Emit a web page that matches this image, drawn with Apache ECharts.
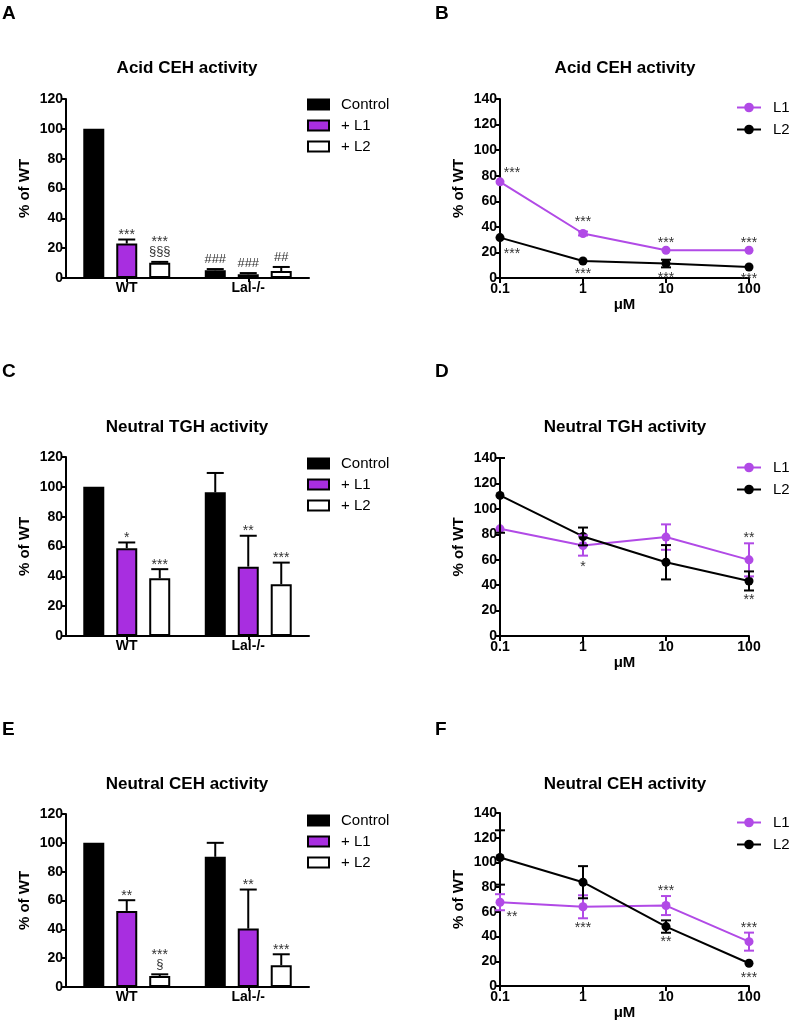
<!DOCTYPE html>
<html><head><meta charset="utf-8">
<script src="https://cdn.jsdelivr.net/npm/echarts@6/dist/echarts.min.js"></script>
<style>html,body{margin:0;padding:0;background:#fff}#c{width:789px;height:1029px}</style>
</head><body><div id="c"></div>
<script>
// ================= DATA =================
const groups = ['WT', 'Lal-/-'];
const barNames = ['Control', '+ L1', '+ L2'];
const doses = [0.1, 1, 10, 100];
const lineNames = ['L1', 'L2'];
const panelLetters = ['A', 'B', 'C', 'D', 'E', 'F'];
const panelTitles = ['Acid CEH activity', 'Acid CEH activity', 'Neutral TGH activity',
                     'Neutral TGH activity', 'Neutral CEH activity', 'Neutral CEH activity'];

// Panel A – Acid CEH activity (bars)
const A_control = [100, 5.2];  const A_controlErr = [0, 0.8];
const A_L1 = [23.1, 2.5];      const A_L1Err = [2.7, 0.8];
const A_L2 = [10.3, 4.7];      const A_L2Err = [0.5, 2.7];
const A_controlSig = ['', '###'];
const A_L1Sig = ['***', '###'];
const A_L2Sig = ['***\n§§§', '##'];

// Panel C – Neutral TGH activity (bars)
const C_control = [100, 96.3]; const C_controlErr = [0, 13];
const C_L1 = [58.9, 46.5];     const C_L1Err = [3.8, 20.7];
const C_L2 = [38.7, 34.7];     const C_L2Err = [6.1, 14.5];
const C_controlSig = ['', ''];
const C_L1Sig = ['*', '**'];
const C_L2Sig = ['***', '***'];

// Panel E – Neutral CEH activity (bars)
const E_control = [100, 90.3]; const E_controlErr = [0, 9.7];
const E_L1 = [52.8, 40.5];     const E_L1Err = [7.4, 27.1];
const E_L2 = [7.6, 15.1];      const E_L2Err = [1.2, 7.6];
const E_controlSig = ['', ''];
const E_L1Sig = ['**', '**'];
const E_L2Sig = ['***\n§', '***'];

// Panel B – Acid CEH activity (dose response)
const B_L1 = [75.2, 34.8, 21.7, 21.7];  const B_L1Err = [0, 1.5, 0, 0];
const B_L2 = [31.6, 13.3, 11.3, 8.6];   const B_L2Err = [0, 0, 3, 0];
const B_L1Sig = ['***', '***', '***', '***'];
const B_L2Sig = ['***', '***', '***', '***'];

// Panel D – Neutral TGH activity (dose response)
const D_L1 = [84.3, 71.2, 77.8, 59.9];  const D_L1Err = [0, 8, 10, 13];
const D_L2 = [110.6, 78.3, 58, 43.3];   const D_L2Err = [29.4, 7, 13.5, 7.5];
const D_L1Sig = ['', '*', '', '**'];
const D_L2Sig = ['', '', '', '**'];

// Panel F – Neutral CEH activity (dose response)
const F_L1 = [67.8, 64.1, 65.1, 35.9];  const F_L1Err = [6.5, 9.3, 7.7, 7.3];
const F_L2 = [104, 84, 48.1, 18.4];     const F_L2Err = [22, 13, 5, 0];
const F_L1Sig = ['**', '***', '***', '***'];
const F_L2Sig = ['', '', '**', '***'];

// ================= STYLE / LAYOUT =================
const FONT = '"Liberation Sans", Arial, sans-serif';
const PURPLE_BAR = '#a82ee0';
const PURPLE_LINE = '#b14ae6';
const BAR_STEP = 33, CAP_BAR = 8.5, CAP_LINE = 5;

// glyph-centre offsets (px) of significance marks relative to each point
const B_L1Off = [[12,-12],[0,-15],[0,-11],[0,-11]];
const B_L2Off = [[12,13],[0,10],[0,11],[0,9]];
const D_L1Off = [[0,0],[0,18],[0,0],[0,-25]];
const D_L2Off = [[0,0],[0,0],[0,0],[0,16]];
const F_L1Off = [[12,11],[0,18],[0,-18],[0,-17]];
const F_L2Off = [[0,0],[0,0],[0,12],[0,11]];

const grids = [
  {left: 66, top: 99, width: 243, height: 179},   // A
  {left: 500, top: 99, width: 249, height: 179},  // B
  {left: 66, top: 457, width: 243, height: 179},  // C
  {left: 500, top: 458, width: 249, height: 178}, // D
  {left: 66, top: 814, width: 243, height: 173},  // E
  {left: 500, top: 813, width: 249, height: 173}  // F
];
const titlePos = [[187,68],[625,68],[187,427],[625,427],[187,784],[625,784]];
const letterPos = [[2,4],[435,4],[2,362],[435,362],[2,720],[435,720]];
const legendPos = [[307,97],[736,100],[307,456],[736,460],[307,813],[736,815]];

const axisLineStyle = {color: '#000', width: 2};

function yAxisCfg(gi, max) {
  return {
    type: 'value', gridIndex: gi, min: 0, max: max, interval: 20,
    axisLine: {show: true, lineStyle: axisLineStyle},
    axisTick: {show: true, length: 5, lineStyle: axisLineStyle},
    splitLine: {show: false},
    axisLabel: {color: '#000', fontWeight: 'bold', fontSize: 14, fontFamily: FONT, margin: 3},
    name: '% of WT', nameLocation: 'middle', nameGap: 34, nameRotate: 90,
    nameTextStyle: {color: '#000', fontWeight: 'bold', fontSize: 15, fontFamily: FONT}
  };
}
function catAxisCfg(gi) {
  return {
    type: 'category', gridIndex: gi, data: groups,
    axisLine: {show: true, lineStyle: axisLineStyle},
    axisTick: {show: true, alignWithLabel: true, length: 4, lineStyle: axisLineStyle},
    axisLabel: {color: '#000', fontWeight: 'bold', fontSize: 14, fontFamily: FONT, margin: 3},
    splitLine: {show: false}
  };
}
function logAxisCfg(gi) {
  return {
    type: 'log', logBase: 10, gridIndex: gi, min: 0.1, max: 100,
    axisLine: {show: true, lineStyle: axisLineStyle},
    axisTick: {show: true, length: 5, lineStyle: axisLineStyle},
    minorTick: {show: false}, splitLine: {show: false}, minorSplitLine: {show: false},
    axisLabel: {color: '#000', fontWeight: 'bold', fontSize: 14, fontFamily: FONT, margin: 4,
                formatter: v => String(+(+v).toPrecision(3))},
    name: 'μM', nameLocation: 'middle', nameGap: 15,
    nameTextStyle: {color: '#000', fontWeight: 'bold', fontSize: 15, fontFamily: FONT}
  };
}

function sigText(text, x, yCenter, children) {
  const isStar = text.indexOf('*') >= 0;
  const fs = isStar ? 14 : 13;
  children.push({
    type: 'text', x: x, y: yCenter + (isStar ? fs * 0.25 : 0),
    style: {text: text, fill: '#333', font: fs + 'px ' + FONT, align: 'center', verticalAlign: 'middle'}
  });
}

function barOverlay(gi, vals, errs, sigs) {
  const rows = [], sigList = [];
  vals.forEach((arr, si) => arr.forEach((v, ci) => {
    rows.push([ci, si, v, errs[si][ci]]);
    sigList.push(sigs[si][ci]);
  }));
  return {
    type: 'custom', xAxisIndex: gi, yAxisIndex: gi, z: 5, silent: true,
    encode: {x: 0, y: 2}, data: rows,
    renderItem(params, api) {
      const ci = api.value(0), si = api.value(1), v = api.value(2), e = api.value(3);
      const p = api.coord([ci, v]);
      const x = p[0] + (si - 1) * BAR_STEP;
      const yTop = api.coord([ci, v + e])[1];
      const ch = [];
      if (e > 0) {
        ch.push({type: 'line', shape: {x1: x, y1: p[1], x2: x, y2: yTop}, style: {stroke: '#000', lineWidth: 2}});
        ch.push({type: 'line', shape: {x1: x - CAP_BAR, y1: yTop, x2: x + CAP_BAR, y2: yTop}, style: {stroke: '#000', lineWidth: 2}});
      }
      const s = sigList[params.dataIndex];
      if (s) {
        const lines = s.split('\n');
        let yc = yTop - (lines[lines.length - 1].indexOf('*') >= 0 ? 8 : 10);
        for (let k = lines.length - 1; k >= 0; k--) {
          sigText(lines[k], x, yc, ch);
          yc -= 13;
        }
      }
      return {type: 'group', children: ch};
    }
  };
}

function lineOverlay(gi, vals, errs, sigs, offs, color) {
  const rows = doses.map((d, i) => [d, vals[i], errs[i]]);
  return {
    type: 'custom', xAxisIndex: gi, yAxisIndex: gi, z: 5, silent: true,
    encode: {x: 0, y: 1}, data: rows,
    renderItem(params, api) {
      const i = params.dataIndex;
      const x0 = api.value(0), y0 = api.value(1), e = api.value(2);
      const p = api.coord([x0, y0]);
      const ch = [];
      if (e > 0) {
        const yHi = api.coord([x0, y0 + e])[1], yLo = api.coord([x0, y0 - e])[1];
        const st = {stroke: color, lineWidth: 2};
        ch.push({type: 'line', shape: {x1: p[0], y1: yLo, x2: p[0], y2: yHi}, style: st});
        ch.push({type: 'line', shape: {x1: p[0] - CAP_LINE, y1: yHi, x2: p[0] + CAP_LINE, y2: yHi}, style: st});
        ch.push({type: 'line', shape: {x1: p[0] - CAP_LINE, y1: yLo, x2: p[0] + CAP_LINE, y2: yLo}, style: st});
      }
      if (sigs[i]) sigText(sigs[i], p[0] + offs[i][0], p[1] + offs[i][1], ch);
      return {type: 'group', children: ch};
    }
  };
}

function barSeries(gi, vals) {
  const colors = ['#000', PURPLE_BAR, '#fff'];
  return vals.map((arr, si) => ({
    type: 'bar', name: barNames[si], xAxisIndex: gi, yAxisIndex: gi, data: arr,
    barWidth: 21, barGap: '57%', z: 2,
    itemStyle: {color: colors[si], borderColor: '#000', borderWidth: 2},
    emphasis: {disabled: true}
  }));
}
function lineSeries(gi, l1, l2) {
  const colors = [PURPLE_LINE, '#000'];
  return [l1, l2].map((arr, si) => ({
    type: 'line', name: lineNames[si], xAxisIndex: gi, yAxisIndex: gi,
    data: doses.map((d, i) => [d, arr[i]]),
    symbol: 'circle', symbolSize: 9, z: 3,
    itemStyle: {color: colors[si]}, lineStyle: {color: colors[si], width: 2},
    emphasis: {disabled: true}
  }));
}

const barPanels = [0, 2, 4];
const series = [
  ...barSeries(0, [A_control, A_L1, A_L2]),
  barOverlay(0, [A_control, A_L1, A_L2], [A_controlErr, A_L1Err, A_L2Err], [A_controlSig, A_L1Sig, A_L2Sig]),
  ...barSeries(2, [C_control, C_L1, C_L2]),
  barOverlay(2, [C_control, C_L1, C_L2], [C_controlErr, C_L1Err, C_L2Err], [C_controlSig, C_L1Sig, C_L2Sig]),
  ...barSeries(4, [E_control, E_L1, E_L2]),
  barOverlay(4, [E_control, E_L1, E_L2], [E_controlErr, E_L1Err, E_L2Err], [E_controlSig, E_L1Sig, E_L2Sig]),
  ...lineSeries(1, B_L1, B_L2),
  lineOverlay(1, B_L1, B_L1Err, B_L1Sig, B_L1Off, PURPLE_LINE),
  lineOverlay(1, B_L2, B_L2Err, B_L2Sig, B_L2Off, '#000'),
  ...lineSeries(3, D_L1, D_L2),
  lineOverlay(3, D_L1, D_L1Err, D_L1Sig, D_L1Off, PURPLE_LINE),
  lineOverlay(3, D_L2, D_L2Err, D_L2Sig, D_L2Off, '#000'),
  ...lineSeries(5, F_L1, F_L2),
  lineOverlay(5, F_L1, F_L1Err, F_L1Sig, F_L1Off, PURPLE_LINE),
  lineOverlay(5, F_L2, F_L2Err, F_L2Sig, F_L2Off, '#000')
];

const legends = grids.map((g, i) => {
  const isBar = barPanels.indexOf(i) >= 0;
  return {
    orient: 'vertical', left: legendPos[i][0], top: legendPos[i][1], padding: 0,
    data: isBar ? barNames : lineNames,
    icon: isBar ? 'rect' : undefined,
    itemWidth: isBar ? 21 : 24, itemHeight: isBar ? 10 : 12,
    itemGap: isBar ? 6 : 7, selectedMode: false,
    textStyle: {color: '#000', fontSize: 15, fontFamily: FONT, padding: [0, 0, 0, 7]}
  };
});

const graphics = [];
panelTitles.forEach((t, i) => {
  graphics.push({type: 'text', x: titlePos[i][0], y: titlePos[i][1], silent: true,
    style: {text: t, fill: '#000', font: 'bold 17px ' + FONT, align: 'center', verticalAlign: 'middle'}});
  graphics.push({type: 'text', x: letterPos[i][0], y: letterPos[i][1], silent: true,
    style: {text: panelLetters[i], fill: '#000', font: 'bold 19px ' + FONT, align: 'left', verticalAlign: 'top'}});
});

const chart = echarts.init(document.getElementById('c'), null, {renderer: 'canvas'});
chart.setOption({
  backgroundColor: '#fff',
  animation: false,
  grid: grids.map(g => Object.assign({containLabel: false, outerBoundsMode: 'none'}, g)),
  xAxis: grids.map((g, i) => barPanels.indexOf(i) >= 0 ? catAxisCfg(i) : logAxisCfg(i)),
  yAxis: grids.map((g, i) => yAxisCfg(i, barPanels.indexOf(i) >= 0 ? 120 : 140)),
  legend: legends,
  series: series,
  graphic: graphics,
  tooltip: {show: false}
});
</script></body></html>
